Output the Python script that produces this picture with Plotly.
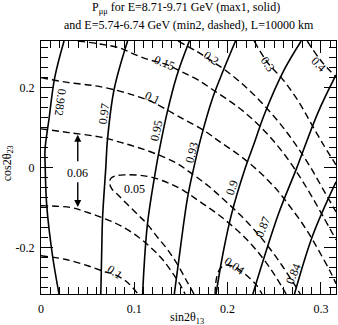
import plotly.graph_objects as go

# max1 (solid) contours, E = 8.71-9.71 GeV
x_982 = [0.0247, 0.0147, 0.0086, 0.0043, 0.0045, 0.0061, 0.0122, 0.0193]
y_982 = [0.3162, 0.2246, 0.1215, 0.0441, 0.0016, -0.0933, -0.2181, -0.3162]
x_97 = [0.0928, 0.0784, 0.0713, 0.0695, 0.0660, 0.0650, 0.0641]
y_97 = [0.3162, 0.1956, 0.0708, 0.0016, -0.1257, -0.2180, -0.3162]
x_95 = [0.1590, 0.1455, 0.1352, 0.1270, 0.1235, 0.1140, 0.1089]
y_95 = [0.3162, 0.2288, 0.1372, 0.0458, 0.0016, -0.1432, -0.3162]
x_93 = [0.2085, 0.1930, 0.1835, 0.1720, 0.1640, 0.1570, 0.1475, 0.1429]
y_93 = [0.3162, 0.2288, 0.1707, 0.0790, 0.0016, -0.0765, -0.2348, -0.3162]
x_90 = [0.2789, 0.2610, 0.2395, 0.2288, 0.2190, 0.2045, 0.1952, 0.1876]
y_90 = [0.3162, 0.2456, 0.1332, 0.0623, -0.0009, -0.1140, -0.2131, -0.3162]
x_87 = [0.3162, 0.2969, 0.2736, 0.2542, 0.2271]
y_87 = [0.2313, 0.1372, -0.0041, -0.1182, -0.3162]
x_84 = [0.3162, 0.2915, 0.2717]
y_84 = [-0.0358, -0.1682, -0.3162]

# min2 (dashed) contours, E = 5.74-6.74 GeV
x_d40 = [0.2854, 0.2994, 0.3162]
y_d40 = [0.3162, 0.2688, 0.2263]
x_d30 = [0.2285, 0.2424, 0.2596, 0.2757, 0.2886, 0.3015, 0.3162]
y_d30 = [0.3162, 0.2638, 0.2188, 0.1664, 0.1140, 0.0615, 0.0066]
x_d20 = [0.1468, 0.1662, 0.1812, 0.1973, 0.2134, 0.2295, 0.2456, 0.2607,
         0.2747, 0.2886, 0.3015, 0.3162]
y_d20 = [0.3162, 0.2912, 0.2688, 0.2438, 0.2138, 0.1789, 0.1389, 0.0965,
         0.0516, 0.0016, -0.0508, -0.1107]
x_d15 = [0.0394, 0.0631, 0.0845, 0.1017, 0.1168, 0.1329, 0.1490, 0.1683,
         0.1876, 0.2081, 0.2263, 0.2435, 0.2596, 0.2747, 0.2886, 0.3026, 0.3162]
y_d15 = [0.3162, 0.3087, 0.2987, 0.2813, 0.2688, 0.2588, 0.2413, 0.2188,
         0.1889, 0.1564, 0.1215, 0.0815, 0.0366, -0.0134, -0.0658, -0.1232, -0.1806]
x_d10a = [0.0, 0.0298, 0.0588, 0.0835, 0.1017, 0.1168, 0.1307, 0.1522, 0.1737,
          0.1919, 0.2134, 0.2328, 0.2510, 0.2671, 0.2832, 0.2972, 0.3101, 0.3162]
y_d10a = [0.2246, 0.2121, 0.2039, 0.1914, 0.1789, 0.1664, 0.1497, 0.1215, 0.0940,
          0.0640, 0.0291, -0.0084, -0.0508, -0.0982, -0.1507, -0.2056, -0.2605, -0.2905]
x_d06a = [0.0, 0.0298, 0.0663, 0.0835, 0.1017, 0.1232, 0.1447, 0.1619, 0.1791,
          0.1962, 0.2134, 0.2295, 0.2446, 0.2585, 0.2704, 0.2779]
y_d06a = [0.0965, 0.0873, 0.0748, 0.0640, 0.0516, 0.0341, 0.0116, -0.0159, -0.0458,
          -0.0808, -0.1182, -0.1582, -0.2006, -0.2456, -0.2880, -0.3162]
x_d05 = [0.1640, 0.1554, 0.1458, 0.1350, 0.1253, 0.1135, 0.1039, 0.0920, 0.0824,
         0.0759, 0.0735, 0.0749, 0.0802, 0.0899, 0.1039, 0.1189, 0.1361, 0.1533,
         0.1705, 0.1876, 0.2048, 0.2209, 0.2349, 0.2467, 0.2575, 0.2628]
y_d05 = [-0.3162, -0.2805, -0.2406, -0.2031, -0.1756, -0.1407, -0.1182, -0.0908, -0.0683,
         -0.0533, -0.0383, -0.0271, -0.0208, -0.0184, -0.0191, -0.0246, -0.0383, -0.0583,
         -0.0858, -0.1132, -0.1457, -0.1806, -0.2181, -0.2555, -0.2955, -0.3162]
x_d04 = [0.1866, 0.1871, 0.1887, 0.1919, 0.1973, 0.2038, 0.2134, 0.2220, 0.2306, 0.2370]
y_d04 = [-0.3162, -0.2930, -0.2705, -0.2530, -0.2443, -0.2456, -0.2568, -0.2730, -0.2930, -0.3162]
x_d06b = [0.0, 0.0319, 0.0502, 0.0684, 0.0856, 0.1039, 0.1168, 0.1296, 0.1393, 0.1479, 0.1544]
y_d06b = [-0.0957, -0.1000, -0.1125, -0.1282, -0.1457, -0.1731, -0.1981, -0.2281, -0.2580,
          -0.2880, -0.3162]
x_d10b = [0.0, 0.0255, 0.0502, 0.0684, 0.0792, 0.0931, 0.1039]
y_d10b = [-0.2206, -0.2293, -0.2456, -0.2605, -0.2680, -0.2880, -0.3162]

# contour labels: text, x, y, angle
lab_text = ["0.982", "0.97", "0.95", "0.93", "0.9", "0.87", "0.84",
            "0.15", "0.1", "0.2", "0.3", "0.4", "0.05", "0.04", "0.1", "0.06"]
lab_x = [0.0212, 0.0677, 0.1235, 0.1611, 0.2041, 0.2381, 0.2704,
         0.1325, 0.1200, 0.1826, 0.2428, 0.2972, 0.1003, 0.2077, 0.0788, 0.0394]
lab_y = [0.1622, 0.1332, 0.0915, 0.0373, -0.0501, -0.1499, -0.2663,
         0.2620, 0.1746, 0.2745, 0.2580, 0.2580, -0.0541, -0.2456, -0.2623, -0.0126]
lab_ang = [98, -82, -77, -75, -72, -68, -68,
           22, 25, 35, 55, 45, 0, 35, 35, 0]

xrng = [0, 0.3162]
yrng = [-0.3162, 0.3162]
serif = "Liberation Serif"

fig = go.Figure()

solid = [(x_982, y_982), (x_97, y_97), (x_95, y_95), (x_93, y_93),
         (x_90, y_90), (x_87, y_87), (x_84, y_84)]
dashed = [(x_d40, y_d40), (x_d30, y_d30), (x_d20, y_d20), (x_d15, y_d15),
          (x_d10a, y_d10a), (x_d06a, y_d06a), (x_d05, y_d05), (x_d04, y_d04),
          (x_d06b, y_d06b), (x_d10b, y_d10b)]

for xs, ys in solid:
    fig.add_trace(go.Scatter(x=xs, y=ys, mode='lines', line_shape='spline',
                             line=dict(color='black', width=1.6), hoverinfo='skip'))
for xs, ys in dashed:
    fig.add_trace(go.Scatter(x=xs, y=ys, mode='lines', line_shape='spline',
                             line=dict(color='black', width=1.4, dash='7px,4px'),
                             hoverinfo='skip'))

ann = []
for t, x, y, a in zip(lab_text, lab_x, lab_y, lab_ang):
    ann.append(dict(x=x, y=y, text=t, showarrow=False, textangle=a,
                    xanchor='center', yanchor='middle',
                    font=dict(family=serif, size=12, color='black')))

# arrows pointing to both 0.06 curves
ann.append(dict(x=0.0394, y=0.082, ax=0.0394, ay=0.0116, axref='x', ayref='y',
                text='', showarrow=True, arrowhead=2, arrowsize=1, arrowwidth=1.4,
                arrowcolor='black'))
ann.append(dict(x=0.0394, y=-0.099, ax=0.0394, ay=-0.0333, axref='x', ayref='y',
                text='', showarrow=True, arrowhead=2, arrowsize=1, arrowwidth=1.4,
                arrowcolor='black'))

# title lines and axis titles (paper y: 1 = top frame at 41px, 0 = bottom at 294px)
txt = dict(showarrow=False, xref='paper', yref='paper', xanchor='center', yanchor='middle',
           font=dict(family=serif, size=12, color='black'))
ann.append(dict(x=0.49, y=1.13, text='P<sub>μμ</sub> for E=8.71-9.71 GeV (max1, solid)', **txt))
ann.append(dict(x=0.5, y=1.065, text='and E=5.74-6.74 GeV (min2, dashed), L=10000 km', **txt))
ann.append(dict(x=0.495, y=-0.095, text='sin2θ<sub>13</sub>', **txt))
ann.append(dict(x=-0.113, y=0.515, text='cos2θ<sub>23</sub>', textangle=-90, **txt))

fig.update_layout(
    width=338, height=325,
    margin=dict(l=41, r=2, t=41, b=31, autoexpand=False),
    paper_bgcolor='white', plot_bgcolor='white',
    showlegend=False,
    annotations=ann,
    font=dict(family=serif, size=12, color='black'),
)
fig.update_xaxes(range=xrng, showgrid=False, zeroline=False, automargin=False,
                 showline=True, linecolor='black', linewidth=1, mirror='allticks',
                 ticks='inside', ticklen=12, tickcolor='black', ticklabelstandoff=4,
                 tickvals=[0, 0.1, 0.2, 0.3], ticktext=['0', '0.1', '0.2', '0.3'],
                 minor=dict(ticks='inside', dtick=0.01, ticklen=7, tickcolor='black'))
fig.update_yaxes(range=yrng, showgrid=False, zeroline=False, automargin=False,
                 showline=True, linecolor='black', linewidth=1, mirror='allticks',
                 ticks='inside', ticklen=12, tickcolor='black', ticklabelstandoff=3,
                 tickvals=[-0.2, 0, 0.2], ticktext=['-0.2', '0', '0.2'],
                 minor=dict(ticks='inside', dtick=0.025, ticklen=7, tickcolor='black'))

# the page's default body margin would shift the figure, so drop it
fig.write_html("out.html", config={'displayModeBar': False},
               post_script="document.body.style.margin = '0px';")
